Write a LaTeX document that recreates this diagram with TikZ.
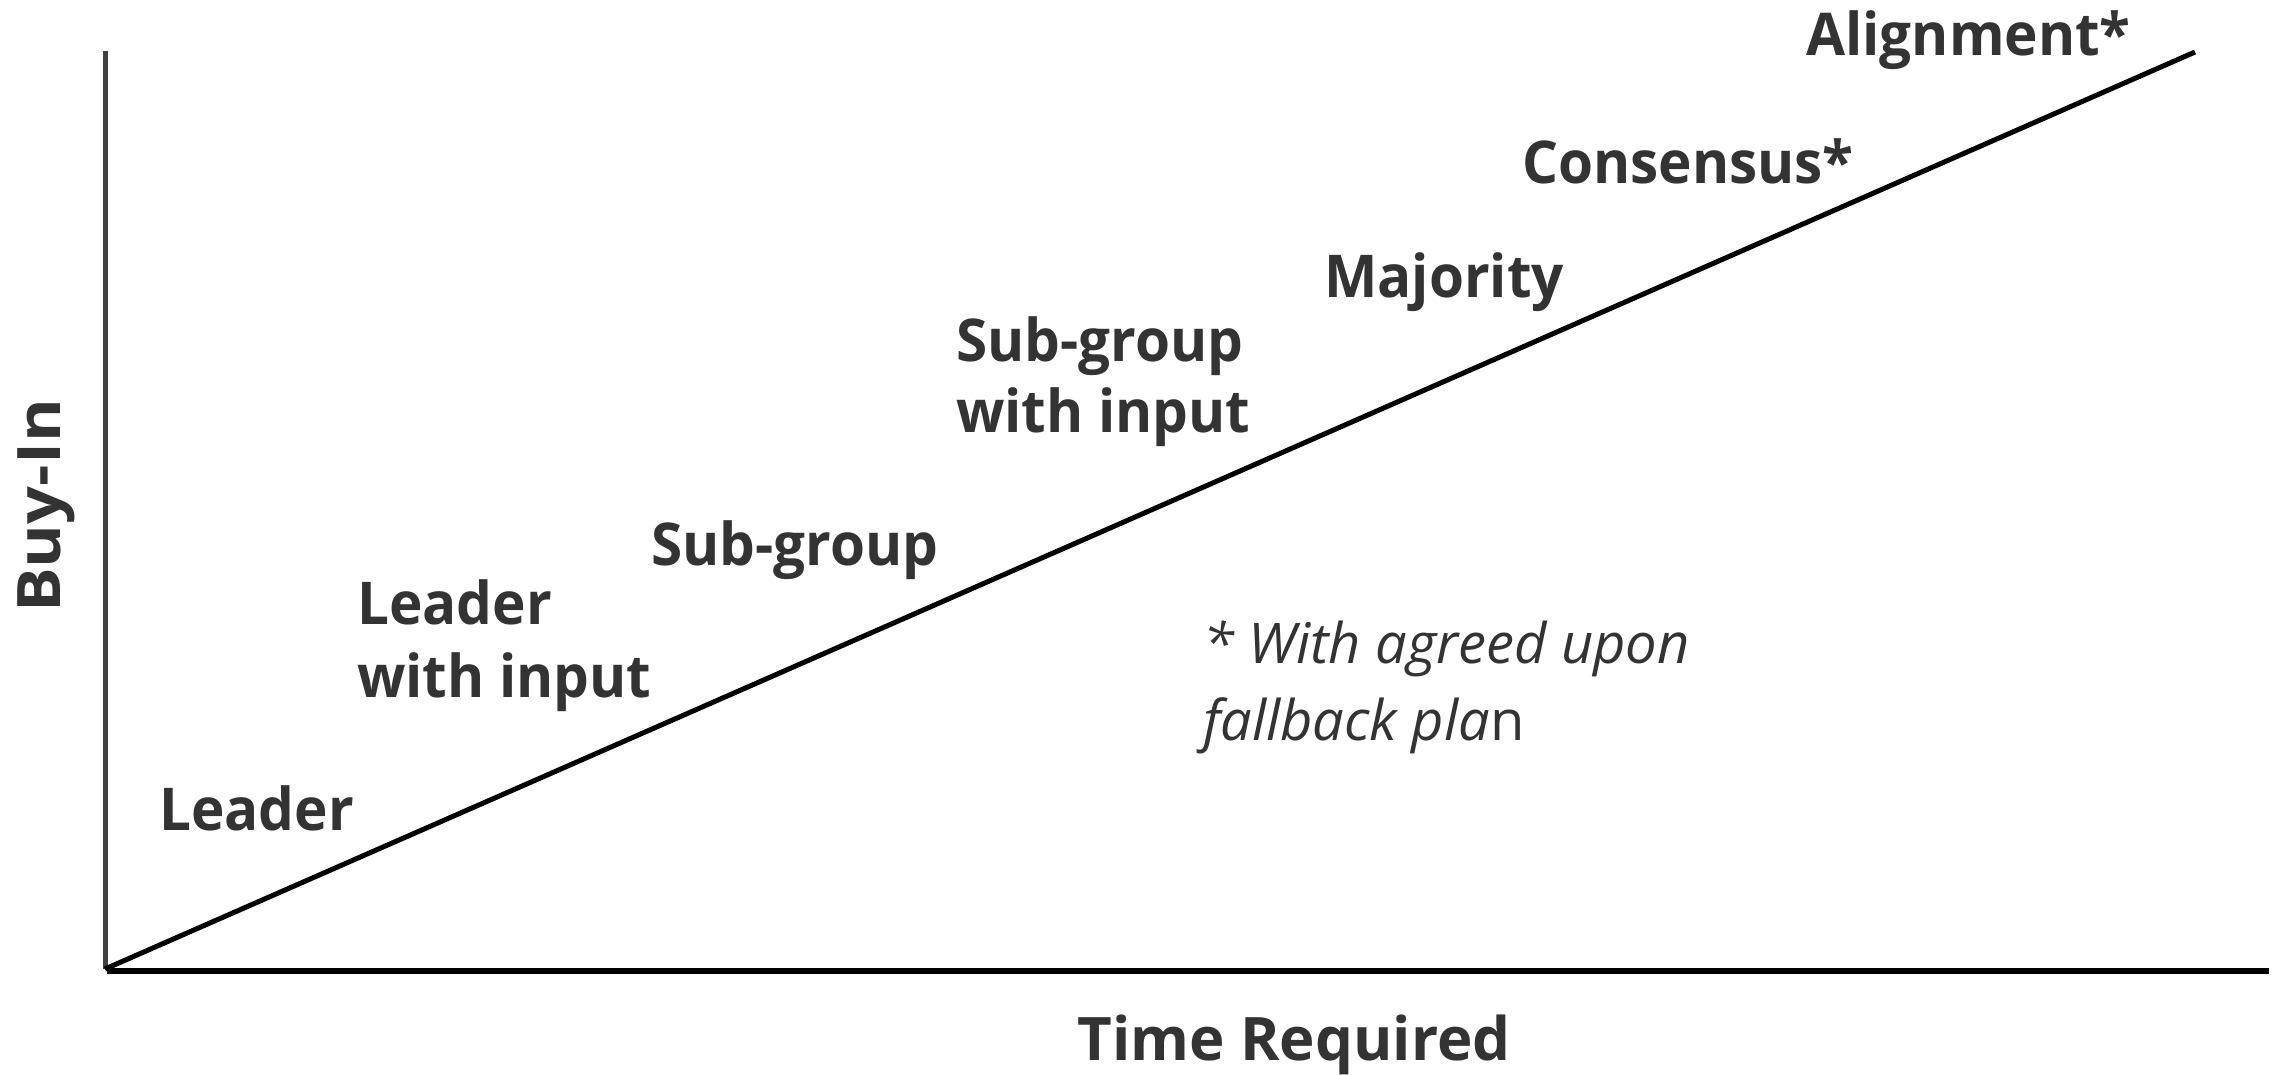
\documentclass[tikz,border=0pt]{standalone}
\usepackage{fontspec}
\setmainfont{Open Sans}
\definecolor{txt}{HTML}{333333}
\definecolor{vax}{HTML}{404040}
\newcommand\sqz[1]{\scalebox{0.96}[1]{#1}}
\begin{document}
\begin{tikzpicture}[x=1pt,y=-1pt,
  lbl/.style={font=\fontsize{59}{70}\selectfont\bfseries, text=txt, inner sep=0pt, anchor=base west},
  axl/.style={font=\fontsize{60}{72}\selectfont\bfseries, text=txt, inner sep=0pt},
  note/.style={font=\fontsize{56}{67}\selectfont\itshape, text=txt, inner sep=0pt, anchor=base west}]
\useasboundingbox (0,0) rectangle (2285,1074);
\coordinate (O) at (105,969);
\coordinate (Ytop) at (105,51);
\coordinate (Xstart) at (107,971);
\coordinate (Xend) at (2269,971);
\coordinate (Dend) at (2195,52);
\draw[vax, line width=5pt] (Ytop) -- (O);
\draw[black, line width=5.5pt] (Xstart) -- (Xend);
\draw[black, line width=5pt] (O) -- (Dend);
\node[axl, rotate=90, anchor=base] (buyin) at (60,506) {\scalebox{1.11}[1]{Buy-In}};
\node[axl, anchor=base] (time) at (1294,1060) {Time Required};
\node[lbl] (leader) at (159,830) {\sqz{Leader}};
\node[lbl] (lwi1) at (357,624) {\sqz{Leader}};
\node[lbl] (lwi2) at (357,697) {\sqz{with input}};
\node[lbl] (sg) at (651,565) {\sqz{Sub-group}};
\node[lbl] (sgi1) at (956,361) {\sqz{Sub-group}};
\node[lbl] (sgi2) at (956,432) {\sqz{with input}};
\node[lbl] (maj) at (1324,297) {\sqz{Majority}};
\node[lbl] (cons) at (1522,183) {\sqz{Consensus*}};
\node[lbl] (align) at (1806,55) {\sqz{Alignment*}};
\node[note] (n1) at (1203,663) {* With agreed upon};
\node[note] (n2) at (1203,740) {fallback pla{\upshape n}};
\end{tikzpicture}
\end{document}
